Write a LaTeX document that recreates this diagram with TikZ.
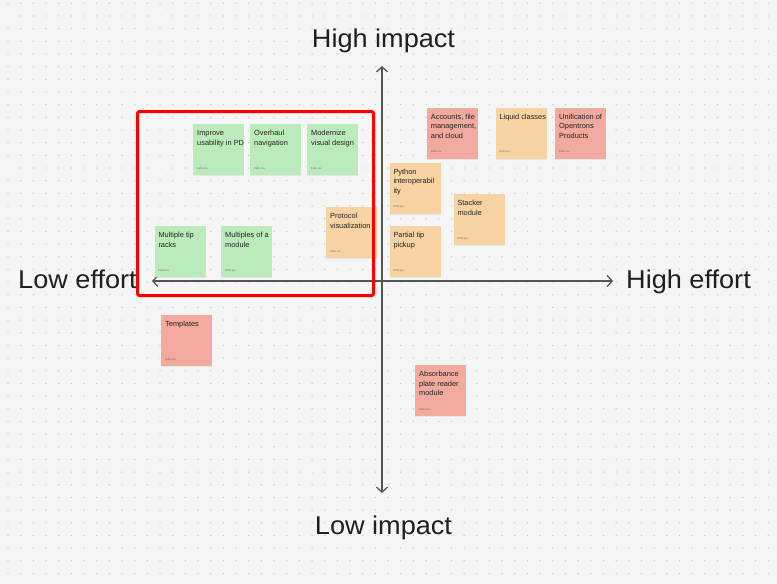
\documentclass[tikz,border=0pt]{standalone}
\usepackage{fontspec}
\setmainfont{Liberation Sans}
\newfontfamily\axfont[FakeStretch=1.055]{Liberation Sans}
\usetikzlibrary{arrows.meta,shadows}
\definecolor{bgc}{HTML}{F5F5F5}
\definecolor{dotc}{HTML}{C8C8C8}
\definecolor{axc}{HTML}{555555}
\definecolor{sgreen}{HTML}{BBEBBB}
\definecolor{sorange}{HTML}{F7D3A4}
\definecolor{sred}{HTML}{F2A99E}
\definecolor{txc}{HTML}{222222}
\definecolor{hilite}{HTML}{FF0000}
\tikzset{
  sticky/.style={draw=none, minimum width=51pt, minimum height=51pt, inner sep=0pt, anchor=north west,
    drop shadow={opacity=0.12, shadow xshift=0pt, shadow yshift=-1.2pt}},
  stext/.style={anchor=north west, inner sep=0pt, align=left, text=txc, font=\fontsize{7.4}{9.5}\selectfont},
  foot/.style={anchor=south west, inner sep=0pt, text=txc!70, font=\fontsize{2.8}{3}\selectfont},
  axis/.style={draw=axc, line width=1.4pt, {Straight Barb[length=5pt,width=11pt,line width=1.3pt]}-{Straight Barb[length=5pt,width=11pt,line width=1.3pt]}},
  axlabel/.style={inner sep=0pt, text=black!88, font=\axfont\fontsize{25.7}{28}\selectfont}
}
\newcommand{\mysticky}[5]{%
  \node[sticky, fill=#4] (#1) at (#2,#3) {};
  \node[stext] (#1t) at ([xshift=4pt,yshift=-6.3pt]#1.north west) {#5};
  \node[foot] (#1f) at ([xshift=4pt,yshift=5.5pt]#1.south west) {Felix Liu};
}
\begin{document}
\begin{tikzpicture}[x=1pt,y=-1pt]
\fill[bgc] (0,0) rectangle (777,584);
\useasboundingbox (0,0) rectangle (777,584);
\foreach \i in {0,...,60}{
  \foreach \j in {0,...,45}{
    \fill[dotc] ({8+12.67*\i},{3.3+12.67*\j}) circle (0.7);
  }
}
% axes
\coordinate (top) at (382,66);
\coordinate (bot) at (382,493);
\coordinate (lft) at (152,281);
\coordinate (rgt) at (613,281);
\draw[axis] (bot) -- (top);
\draw[axis] (lft) -- (rgt);
\node[axlabel, anchor=base] (hi) at (383.5,47) {High impact};
\node[axlabel, anchor=base] (lo) at (383.5,534) {Low impact};
\node[axlabel, anchor=base west] (le) at (18,288) {Low effort};
\node[axlabel, anchor=base west] (he) at (626,288) {High effort};
% stickies
\mysticky{a}{193}{124}{sgreen}{Improve\\usability in PD}
\mysticky{b}{250}{124}{sgreen}{Overhaul\\navigation}
\mysticky{c}{307}{124}{sgreen}{Modernize\\visual design}
\mysticky{d}{154.3}{226}{sgreen}{Multiple tip\\racks}
\mysticky{e}{221}{226}{sgreen}{Multiples of a\\module}
\mysticky{f}{326}{207}{sorange}{Protocol\\visualization}
\mysticky{g}{426.7}{107.3}{sred}{Accounts, file\\management,\\and cloud}
\mysticky{h}{495.3}{107.3}{sorange}{Liquid classes}
\mysticky{k}{555}{107.3}{sred}{Unification of\\Opentrons\\Products}
\mysticky{m}{389.3}{162.3}{sorange}{Python\\interoperabil\\ity}
\mysticky{n}{453.3}{194}{sorange}{Stacker\\module}
\mysticky{p}{389.3}{226}{sorange}{Partial tip\\pickup}
\mysticky{q}{161}{315}{sred}{Templates}
\mysticky{r}{415}{365}{sred}{Absorbance\\plate reader\\module}
% highlight
\draw[hilite, line width=3pt, rounded corners=2pt] (137.5,111.5) rectangle (373.5,295.5);
\end{tikzpicture}
\end{document}
